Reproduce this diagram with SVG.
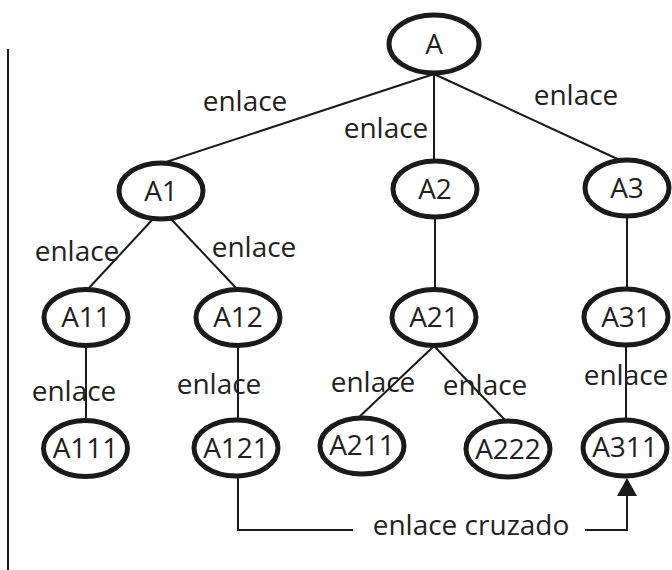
<svg xmlns="http://www.w3.org/2000/svg" width="672" height="570" viewBox="0 0 672 570">
<defs>
<style>
.n ellipse{fill:#fff;stroke:#1a1a1a;stroke-width:5}
.t{font-family:"Open Sans","Liberation Sans",sans-serif;font-size:28px;fill:#231f20;text-anchor:middle}
.e line,.e path{stroke:#1a1a1a;stroke-width:2;fill:none}
</style>
<marker id="arr" markerUnits="userSpaceOnUse" markerWidth="18" markerHeight="20" refX="6" refY="10" orient="auto" viewBox="0 0 18 20">
<path d="M0,0 L18,10 L0,20 Z" fill="#1a1a1a"/>
</marker>
</defs>
<rect width="672" height="570" fill="#fff"/>
<line x1="8" y1="49" x2="8" y2="570" stroke="#1a1a1a" stroke-width="2"/>
<g id="connectors" class="e">
<line x1="434" y1="74" x2="166" y2="162"/>
<line x1="434" y1="74" x2="434" y2="162"/>
<line x1="434" y1="74" x2="624" y2="162"/>
<line x1="153" y1="219" x2="88" y2="289"/>
<line x1="171" y1="219" x2="237" y2="289"/>
<line x1="435" y1="217" x2="435" y2="289"/>
<line x1="627" y1="217" x2="627" y2="289"/>
<line x1="86" y1="346" x2="86" y2="420"/>
<line x1="238" y1="346" x2="238" y2="420"/>
<line x1="434" y1="346" x2="356" y2="420"/>
<line x1="434" y1="346" x2="505" y2="420"/>
<line x1="626" y1="346" x2="626" y2="420"/>
<path d="M238,476 V530 H353"/>
<path d="M585,530 H627 V490" marker-end="url(#arr)"/>
</g>
<g class="t">
<text x="245" y="111">enlace</text>
<text x="386" y="138">enlace</text>
<text x="576" y="105">enlace</text>
<text x="77" y="261">enlace</text>
<text x="254" y="257">enlace</text>
<text x="74" y="401">enlace</text>
<text x="219" y="394">enlace</text>
<text x="373" y="392">enlace</text>
<text x="485" y="395">enlace</text>
<text x="626" y="385">enlace</text>
<text x="471" y="535">enlace cruzado</text>
</g>
<g id="A" class="n"><ellipse cx="434" cy="44" rx="45" ry="29"/><text class="t" x="434" y="54">A</text></g>
<g id="A1" class="n"><ellipse cx="161" cy="191" rx="42" ry="28"/><text class="t" x="161" y="201">A1</text></g>
<g id="A2" class="n"><ellipse cx="435" cy="189" rx="42" ry="28"/><text class="t" x="435" y="199">A2</text></g>
<g id="A3" class="n"><ellipse cx="627" cy="188" rx="42" ry="28"/><text class="t" x="627" y="198">A3</text></g>
<g id="A11" class="n"><ellipse cx="86" cy="317.5" rx="42" ry="28"/><text class="t" x="86" y="327">A11</text></g>
<g id="A12" class="n"><ellipse cx="238" cy="317.5" rx="42" ry="28"/><text class="t" x="238" y="327">A12</text></g>
<g id="A21" class="n"><ellipse cx="434" cy="317.5" rx="42" ry="28"/><text class="t" x="434" y="327">A21</text></g>
<g id="A31" class="n"><ellipse cx="626" cy="317" rx="42" ry="28"/><text class="t" x="626" y="327">A31</text></g>
<g id="A111" class="n"><ellipse cx="85.5" cy="448.5" rx="42" ry="28"/><text class="t" x="85.5" y="458">A111</text></g>
<g id="A121" class="n"><ellipse cx="236" cy="448" rx="42" ry="28"/><text class="t" x="236" y="458">A121</text></g>
<g id="A211" class="n"><ellipse cx="362" cy="446" rx="42" ry="28"/><text class="t" x="362" y="455">A211</text></g>
<g id="A222" class="n"><ellipse cx="508" cy="449" rx="42" ry="28"/><text class="t" x="508" y="459">A222</text></g>
<g id="A311" class="n"><ellipse cx="625" cy="448" rx="42" ry="28"/><text class="t" x="625" y="457">A311</text></g>
</svg>
